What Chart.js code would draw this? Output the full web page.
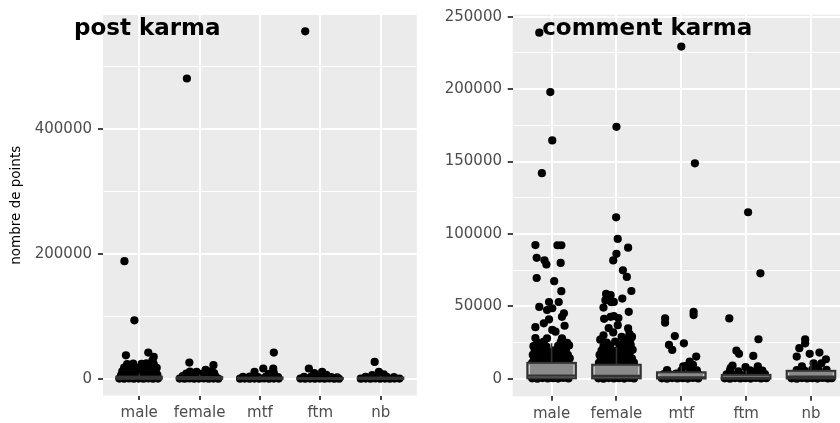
<!DOCTYPE html>
<html>
<head>
<meta charset="utf-8">
<script src="https://cdn.jsdelivr.net/npm/chart.js@4.4.1/dist/chart.umd.min.js"></script>
<style>
  html, body { margin: 0; padding: 0; background: #ffffff; }
  body { width: 840px; height: 423px; overflow: hidden; position: relative; }
  canvas { position: absolute; top: 0; }
  #postChart { left: 0; }
  #commentChart { left: 421px; }
</style>
</head>
<body>
<canvas id="postChart" width="421" height="423" style="width:421px;height:423px"></canvas>
<canvas id="commentChart" width="433" height="423" style="width:433px;height:423px"></canvas>
<script>
// ---- categories and axis ticks ----
const categories = ['male', 'female', 'mtf', 'ftm', 'nb'];
const postTicks = [0, 200000, 400000];
const postMinorTicks = [100000, 300000, 500000];
const commentTicks = [0, 50000, 100000, 150000, 200000, 250000];
const commentMinorTicks = [25000, 75000, 125000, 175000, 225000];

// ---- post karma: [horizontal jitter, points] per user ----
const postMale = [
  [-0.245, 188100], [-0.08, 93600], [-0.22, 37500], [0.15, 41900], [0.24, 35300], [0.22, 29500],
  [-0.33, 300], [-0.25, 150], [-0.17, 500], [-0.09, 200], [-0.01, 400], [0.07, 100], [0.15, 600], [0.23, 250], [0.31, 350],
  [-0.3, 5800], [-0.21, 6300], [-0.12, 5500], [-0.03, 6100], [0.06, 5900], [0.14, 6600], [0.22, 5600], [0.3, 6200],
  [-0.28, 11800], [-0.19, 12500], [-0.1, 11500], [0.0, 12200], [0.09, 11900], [0.18, 12700], [0.27, 11600],
  [-0.25, 17800], [-0.14, 18500], [-0.05, 17600], [0.05, 18200], [0.13, 17900], [0.22, 19000], [0.29, 17500],
  [-0.2, 23500], [-0.1, 24200], [0.04, 23800], [0.12, 24600], [0.24, 23900]
];
const postFemale = [
  [-0.21, 480300], [-0.17, 25900], [0.23, 21800],
  [-0.33, 400], [-0.25, 200], [-0.17, 600], [-0.09, 100], [-0.01, 300], [0.07, 500], [0.15, 150], [0.23, 450], [0.31, 250],
  [-0.28, 4300], [-0.19, 4800], [-0.1, 4100], [-0.01, 4600], [0.08, 4400], [0.17, 4900], [0.26, 4200],
  [-0.22, 8300], [-0.12, 8900], [-0.03, 8100], [0.06, 8700], [0.15, 8400], [0.24, 9200],
  [-0.16, 11500], [-0.05, 11000], [0.2, 12500], [0.1, 14300]
];
const postMtf = [
  [0.23, 42000], [-0.09, 11100], [0.055, 16500], [0.22, 16500], [0.23, 9500], [0.15, 8000],
  [-0.33, 200], [-0.25, 450], [-0.17, 100], [-0.09, 350], [-0.01, 250], [0.07, 500], [0.15, 150], [0.23, 400], [0.31, 300],
  [-0.28, 3200], [-0.17, 3600], [-0.03, 2900], [0.1, 3400], [0.2, 3800], [0.3, 2800]
];
const postFtm = [
  [-0.25, 555800], [-0.19, 16500], [0.03, 11100], [-0.1, 9000], [0.1, 6500],
  [-0.33, 300], [-0.25, 100], [-0.17, 450], [-0.09, 200], [-0.01, 350], [0.07, 150], [0.15, 500], [0.23, 250], [0.31, 100],
  [-0.27, 3000], [-0.15, 3500], [-0.04, 3200], [0.07, 3800], [0.18, 2600], [0.28, 2200]
];
const postNb = [
  [-0.1, 27000], [-0.03, 11100], [0.05, 7000], [-0.14, 6000],
  [-0.33, 250], [-0.25, 400], [-0.17, 150], [-0.09, 500], [-0.01, 200], [0.07, 350], [0.15, 100], [0.23, 450], [0.31, 300],
  [-0.25, 3000], [-0.13, 3600], [-0.02, 4200], [0.1, 3300], [0.22, 2800]
];

// ---- comment karma: [horizontal jitter, points] per user ----
const commentMale = [
  [-0.19, 239000], [-0.02, 198000], [0.01, 164600], [-0.15, 142000],
  [-0.25, 92300], [0.09, 92200], [0.15, 92200], [-0.23, 83500], [-0.11, 81800], [-0.08, 78900], [0.14, 80000],
  [-0.23, 69600], [0.04, 67400], [0.15, 60500],
  [-0.19, 49600], [-0.04, 53000], [-0.07, 47500], [0.01, 48700], [0.11, 53000],
  [0.19, 45200], [0.16, 42800], [-0.04, 41000],
  [-0.25, 35600], [-0.12, 38300], [0.01, 33700], [0.06, 32500], [0.2, 36600],
  [-0.25, 28100], [-0.07, 28000], [0.16, 28000],
  [-0.3, 300], [-0.22, 100], [-0.14, 500], [-0.06, 200], [0.02, 400], [0.1, 150], [0.18, 600], [0.26, 250],
  [-0.27, 2800], [-0.19, 3100], [-0.11, 2600], [-0.03, 2900], [0.05, 3300], [0.13, 2700], [0.21, 3000], [0.28, 2500],
  [-0.3, 5500], [-0.22, 5900], [-0.14, 5300], [-0.06, 5700], [0.02, 5400], [0.1, 6000], [0.18, 5600], [0.26, 5200],
  [-0.27, 8300], [-0.19, 8600], [-0.11, 8100], [-0.03, 8500], [0.05, 8200], [0.13, 8800], [0.21, 8000], [0.28, 8400],
  [-0.3, 11000], [-0.22, 11400], [-0.14, 10800], [-0.06, 11200], [0.02, 11500], [0.1, 10900], [0.18, 11300], [0.26, 11100],
  [-0.27, 13800], [-0.19, 14200], [-0.11, 13600], [-0.03, 14000], [0.05, 13700], [0.13, 14300], [0.21, 13900], [0.28, 14100],
  [-0.29, 16500], [-0.2, 16900], [-0.12, 16300], [-0.02, 16700], [0.08, 16400], [0.16, 17000], [0.25, 16600],
  [-0.26, 19500], [-0.16, 19900], [-0.07, 19300], [0.04, 19700], [0.13, 19400], [0.22, 20000],
  [-0.28, 22500], [-0.18, 22900], [-0.08, 22300], [0.1, 22700], [0.2, 22400], [0.27, 23000],
  [-0.22, 25000], [-0.12, 25600], [0.14, 25300], [0.24, 24800]
];
const commentFemale = [
  [0.0, 174000], [-0.005, 111500], [0.02, 96600], [0.18, 90500], [0.0, 86300], [-0.05, 81700],
  [0.1, 74900], [0.16, 70300], [0.23, 60600], [-0.16, 58600], [-0.09, 57700], [-0.17, 54300], [-0.08, 52900],
  [0.09, 55400], [-0.04, 53100], [-0.2, 49200], [0.19, 46200], [-0.09, 42800], [-0.04, 43300], [0.03, 41900],
  [-0.19, 41400], [0.18, 34800], [0.24, 29100], [0.22, 27700],
  [-0.2, 30000], [-0.05, 32000], [0.08, 29000], [0.2, 31000], [-0.12, 35000], [0.02, 37000], [0.17, 27500], [-0.25, 27000],
  [-0.28, 300], [-0.2, 100], [-0.12, 500], [-0.04, 200], [0.04, 400], [0.12, 150], [0.2, 600], [0.27, 250],
  [-0.25, 2800], [-0.17, 3100], [-0.09, 2600], [-0.01, 2900], [0.07, 3300], [0.15, 2700], [0.23, 3000],
  [-0.27, 5500], [-0.19, 5900], [-0.11, 5300], [-0.03, 5700], [0.05, 5400], [0.13, 6000], [0.21, 5600], [0.27, 5200],
  [-0.25, 8300], [-0.17, 8600], [-0.09, 8100], [-0.01, 8500], [0.07, 8200], [0.15, 8800], [0.23, 8000],
  [-0.27, 11000], [-0.19, 11400], [-0.11, 10800], [-0.03, 11200], [0.05, 11500], [0.13, 10900], [0.21, 11300], [0.27, 11100],
  [-0.24, 13800], [-0.16, 14200], [-0.08, 13600], [0.0, 14000], [0.08, 13700], [0.16, 14300], [0.24, 13900],
  [-0.26, 16500], [-0.17, 16900], [-0.08, 16300], [0.02, 16700], [0.11, 16400], [0.2, 17000],
  [-0.23, 19500], [-0.13, 19900], [-0.03, 19300], [0.07, 19700], [0.17, 19400], [0.25, 20000],
  [-0.2, 22500], [-0.1, 22900], [0.05, 22300], [0.14, 22700], [0.22, 23400],
  [-0.15, 25000], [-0.02, 25600], [0.1, 24800]
];
const commentMtf = [
  [0.0, 229400], [0.21, 148800],
  [-0.25, 41700], [-0.25, 38700], [0.19, 46200], [0.19, 44000], [-0.1, 29500], [-0.19, 23400], [-0.14, 19900],
  [0.04, 24500], [0.23, 15300], [0.13, 11900], [0.18, 9600], [0.03, 8500],
  [-0.3, 300], [-0.22, 100], [-0.14, 500], [-0.06, 200], [0.02, 400], [0.1, 150], [0.18, 600], [0.26, 250],
  [-0.27, 3200], [-0.17, 2900], [-0.08, 3500], [0.02, 3000], [0.11, 3600], [0.2, 3300], [0.27, 2800],
  [-0.22, 6000], [0.0, 5600], [0.14, 6300], [0.24, 5900], [0.08, 9000]
];
const commentFtm = [
  [0.03, 115000], [0.22, 72800], [-0.26, 41700], [-0.15, 19400], [-0.11, 17200], [0.19, 27300], [0.11, 15800],
  [-0.21, 9100], [-0.24, 7300], [-0.01, 8000], [0.18, 8500],
  [-0.33, 300], [-0.25, 100], [-0.17, 500], [-0.09, 200], [-0.01, 400], [0.07, 150], [0.15, 600], [0.23, 250], [0.31, 350],
  [-0.3, 3000], [-0.2, 2700], [-0.1, 3300], [0.0, 2900], [0.1, 3100], [0.2, 2600], [0.29, 3200],
  [-0.25, 5500], [-0.12, 5200], [0.06, 5800], [0.15, 5300], [0.25, 5600]
];
const commentNb = [
  [-0.09, 27300], [-0.09, 24500], [-0.18, 21100], [-0.22, 15300], [-0.02, 17200], [0.13, 18100], [0.23, 13500],
  [0.04, 10700], [0.16, 10700],
  [-0.3, 300], [-0.22, 100], [-0.14, 500], [-0.06, 200], [0.02, 400], [0.1, 150], [0.18, 600], [0.26, 250], [0.32, 350],
  [-0.27, 3000], [-0.17, 2700], [-0.07, 3300], [0.03, 2900], [0.13, 3100], [0.23, 2600], [0.3, 3200],
  [-0.22, 6000], [-0.1, 5700], [0.02, 6300], [0.12, 5800], [0.24, 6100], [-0.14, 8500], [0.08, 8000]
];

// ---- box summaries (lower whisker, Q1, median, Q3, upper whisker) per category ----
const postLow = [0, 0, 0, 0, 0];
const postQ1 = [50, 40, 30, 20, 30];
const postMedian = [500, 400, 300, 200, 300];
const postQ3 = [3500, 2800, 2000, 1200, 2000];
const postHigh = [8000, 7000, 5000, 3000, 5000];

const commentLow = [0, 0, 0, 0, 0];
const commentQ1 = [300, 250, 150, 80, 200];
const commentMedian = [2200, 1900, 900, 500, 1400];
const commentQ3 = [11000, 9700, 4500, 2700, 5500];
const commentHigh = [24500, 22000, 9200, 5800, 11800];

// ---- shared drawing helpers ----
Chart.defaults.font.family = "'DejaVu Sans', sans-serif";

const panelBackground = {
  id: 'panelBackground',
  beforeDraw(chart) {
    const { ctx, chartArea: a } = chart;
    ctx.save();
    ctx.fillStyle = '#EBEBEB';
    ctx.fillRect(a.left, a.top, a.right - a.left, a.bottom - a.top);
    ctx.restore();
  }
};

const boxes = {
  id: 'boxes',
  afterDatasetsDraw(chart, args, opts) {
    const { ctx, chartArea: a, scales: { x, y } } = chart;
    ctx.save();
    ctx.beginPath();
    ctx.rect(a.left, a.top, a.right - a.left, a.bottom - a.top);
    ctx.clip();
    for (let i = 0; i < categories.length; i++) {
      const xl = x.getPixelForValue(i - 0.375);
      const xr = x.getPixelForValue(i + 0.375);
      const xc = x.getPixelForValue(i);
      const yLo = y.getPixelForValue(opts.low[i]);
      const yQ1 = y.getPixelForValue(opts.q1[i]);
      const yMed = y.getPixelForValue(opts.median[i]);
      const yQ3 = y.getPixelForValue(opts.q3[i]);
      const yHi = y.getPixelForValue(opts.high[i]);
      // whiskers
      ctx.strokeStyle = '#333333';
      ctx.lineWidth = 1.6;
      ctx.beginPath();
      ctx.moveTo(xc, yQ3); ctx.lineTo(xc, yHi);
      ctx.moveTo(xc, yQ1); ctx.lineTo(xc, yLo);
      ctx.stroke();
      // box body
      ctx.fillStyle = '#8a8a8a';
      ctx.fillRect(xl, yQ3, xr - xl, yQ1 - yQ3);
      // light inner edge
      if (yQ1 - yQ3 > 4) {
        ctx.strokeStyle = 'rgba(235,235,235,0.85)';
        ctx.lineWidth = 1;
        ctx.beginPath();
        ctx.moveTo(xl + 2, yQ3 + 2); ctx.lineTo(xl + 2, yQ1 - 2);
        ctx.moveTo(xr - 2, yQ3 + 2); ctx.lineTo(xr - 2, yQ1 - 2);
        ctx.stroke();
      }
      // median
      ctx.strokeStyle = '#333333';
      ctx.lineWidth = 2.4;
      ctx.beginPath();
      ctx.moveTo(xl, yMed); ctx.lineTo(xr, yMed);
      ctx.stroke();
      // outline
      ctx.lineWidth = 2;
      ctx.strokeRect(xl, yQ3, xr - xl, yQ1 - yQ3);
    }
    ctx.restore();
  }
};

const panelTitle = {
  id: 'panelTitle',
  afterDraw(chart, args, opts) {
    const { ctx, chartArea: a } = chart;
    ctx.save();
    ctx.font = "bold 23px 'DejaVu Sans', sans-serif";
    ctx.fillStyle = '#000000';
    ctx.textBaseline = 'alphabetic';
    ctx.textAlign = 'left';
    ctx.fillText(opts.text, a.left + opts.dx, a.top + opts.dy);
    ctx.restore();
  }
};

function pointsFor(groups) {
  const pts = [];
  groups.forEach((g, i) => g.forEach(([j, v]) => pts.push({ x: i + j, y: v })));
  return pts;
}

function makeChart(canvasId, cfg) {
  const major = cfg.ticks;
  const all = cfg.ticks.concat(cfg.minorTicks).sort((p, q) => p - q);
  const isMajor = (ctx) => ctx.tick && major.includes(ctx.tick.value);
  return new Chart(document.getElementById(canvasId), {
    type: 'scatter',
    data: {
      datasets: [{
        data: pointsFor(cfg.groups),
        backgroundColor: '#000000',
        borderWidth: 0,
        pointRadius: 4.1,
        pointHoverRadius: 4.1
      }]
    },
    options: {
      responsive: false,
      animation: false,
      events: [],
      layout: { padding: { top: 13, left: 0, right: 0, bottom: 0 } },
      plugins: {
        legend: { display: false },
        tooltip: { enabled: false },
        boxes: cfg.stats,
        panelTitle: cfg.title
      },
      scales: {
        x: {
          type: 'linear',
          min: -0.6,
          max: 4.6,
          afterBuildTicks: (s) => { s.ticks = categories.map((c, i) => ({ value: i })); },
          afterFit: (s) => { s.height = cfg.xAxisHeight; },
          border: { display: false },
          grid: { color: '#FFFFFF', lineWidth: 2, tickColor: '#333333', tickLength: 4.5, tickWidth: 1.8 },
          ticks: {
            autoSkip: false, maxRotation: 0, padding: 4,
            color: '#4D4D4D', font: { size: 15 },
            callback: (v) => categories[v]
          }
        },
        y: {
          type: 'linear',
          min: cfg.yMin,
          max: cfg.yMax,
          afterBuildTicks: (s) => { s.ticks = all.map((v) => ({ value: v })); },
          afterFit: (s) => { s.width = cfg.yAxisWidth; },
          border: { display: false },
          grid: {
            color: '#FFFFFF',
            lineWidth: (ctx) => isMajor(ctx) ? 2 : 1,
            tickColor: (ctx) => isMajor(ctx) ? '#333333' : 'rgba(0,0,0,0)',
            tickWidth: (ctx) => isMajor(ctx) ? 1.8 : 0,
            tickLength: 5
          },
          ticks: {
            autoSkip: false, padding: cfg.yTickPadding,
            color: '#4D4D4D', font: { size: 15 },
            callback: (v) => major.includes(v) ? String(v) : ''
          },
          title: cfg.yTitle
        }
      }
    },
    plugins: [panelBackground, boxes, panelTitle]
  });
}

makeChart('postChart', {
  groups: [postMale, postFemale, postMtf, postFtm, postNb],
  ticks: postTicks,
  minorTicks: postMinorTicks,
  yMin: -26700,
  yMax: 581900,
  yAxisWidth: 103,
  xAxisHeight: 27.5,
  yTickPadding: 6,
  stats: { low: postLow, q1: postQ1, median: postMedian, q3: postQ3, high: postHigh },
  title: { text: 'post karma', dx: -29, dy: 20.3 },
  yTitle: {
    display: true,
    text: 'nombre de points',
    color: '#000000',
    font: { size: 13.5 },
    padding: { top: 8, bottom: 0 }
  }
});

makeChart('commentChart', {
  groups: [commentMale, commentFemale, commentMtf, commentFtm, commentNb],
  ticks: commentTicks,
  minorTicks: commentMinorTicks,
  yMin: -12100,
  yMax: 251400,
  yAxisWidth: 91.7,
  xAxisHeight: 26.7,
  yTickPadding: 5.7,
  stats: { low: commentLow, q1: commentQ1, median: commentMedian, q3: commentQ3, high: commentHigh },
  title: { text: 'comment karma', dx: 29.5, dy: 19.8 },
  yTitle: { display: false }
});
</script>
</body>
</html>
